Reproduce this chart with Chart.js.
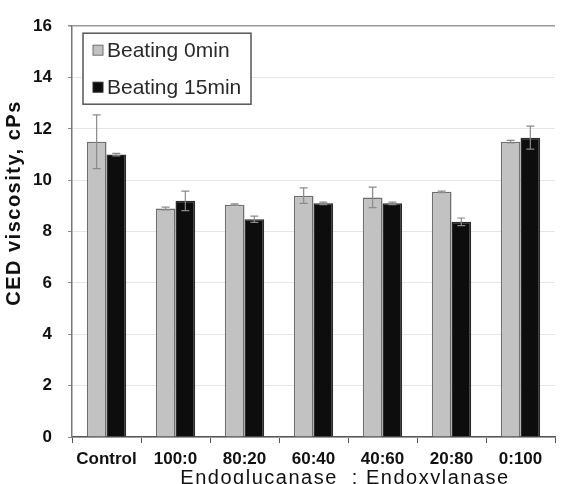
<!DOCTYPE html>
<html>
<head>
<meta charset="utf-8">
<script src="https://cdn.jsdelivr.net/npm/chart.js@4/dist/chart.umd.min.js"></script>
<style>
  html, body { margin: 0; padding: 0; background: #fff; }
  #wrap { width: 566px; height: 484px; }
</style>
</head>
<body>
<div id="wrap"><canvas id="viscChart" width="566" height="484"></canvas></div>
<script>
const categories = ['Control', '100:0', '80:20', '60:40', '40:60', '20:80', '0:100'];
const beating0 = [11.5, 8.9, 9.05, 9.4, 9.33, 9.55, 11.5];
const beating0Err = [1.05, 0.05, 0.03, 0.3, 0.4, 0.03, 0.05];
const beating15 = [11.0, 9.2, 8.48, 9.1, 9.1, 8.38, 11.66];
const beating15Err = [0.05, 0.38, 0.12, 0.05, 0.05, 0.15, 0.45];
const yTitle = 'CED viscosity, cPs';
const xTitle = 'Endoglucanase  : Endoxylanase';

const Theme = {
    lightBar: '#c2c2c2',
    lightEdge: '#6e6e6e',
    darkBar: '#0d0d0d',
    darkEdge: '#2a2a2a',
    grid: '#e6e6e6',
    frame: '#9a9a9a',
    text: '#111'
};

// error bars, drawn from the y scale
const errorBars = {
    id: 'errorBars',
    afterDatasetsDraw(chart) {
        const ctx = chart.ctx;
        const yScale = chart.scales.y;
        chart.data.datasets.forEach((ds, di) => {
            const meta = chart.getDatasetMeta(di);
            meta.data.forEach((bar, i) => {
                const v = ds.data[i], e = ds.errors[i];
                const top = yScale.getPixelForValue(v + e);
                const bot = yScale.getPixelForValue(v - e);
                ctx.save();
                ctx.strokeStyle = '#8a8a8a';
                ctx.lineWidth = 1.2;
                ctx.beginPath();
                ctx.moveTo(bar.x, top); ctx.lineTo(bar.x, bot);
                ctx.moveTo(bar.x - 4, top); ctx.lineTo(bar.x + 4, top);
                ctx.moveTo(bar.x - 4, bot); ctx.lineTo(bar.x + 4, bot);
                ctx.stroke();
                ctx.restore();
            });
        });
    }
};

// boxed legend inside the plot + axis titles
const decorations = {
    id: 'decorations',
    afterDraw(chart) {
        const ctx = chart.ctx;
        const area = chart.chartArea;
        ctx.save();

        // legend box
        const bx = area.left + 11, by = area.top + 7, bw = 168, bh = 71;
        ctx.fillStyle = '#fff';
        ctx.fillRect(bx, by, bw, bh);
        ctx.strokeStyle = '#555';
        ctx.lineWidth = 1.5;
        ctx.strokeRect(bx, by, bw, bh);
        ctx.font = '21px "Liberation Sans", Arial, sans-serif';
        ctx.textBaseline = 'middle';
        chart.data.datasets.forEach((ds, i) => {
            const cy = by + 17 + i * 37;
            ctx.fillStyle = ds.backgroundColor;
            ctx.fillRect(bx + 10, cy - 5, 10, 10);
            ctx.strokeStyle = ds.borderColor;
            ctx.lineWidth = 1;
            ctx.strokeRect(bx + 10, cy - 5, 10, 10);
            ctx.fillStyle = '#2a2a2a';
            ctx.fillText(ds.label, bx + 24, cy + 1);
        });

        // y title
        ctx.fillStyle = Theme.text;
        ctx.font = 'bold 20px "Liberation Sans", Arial, sans-serif';
        ctx.letterSpacing = '1.5px';
        ctx.textAlign = 'center';
        ctx.translate(14, 203);
        ctx.rotate(-Math.PI / 2);
        ctx.fillText(yTitle, 0, 0);
        ctx.restore();

        // x title
        ctx.save();
        ctx.fillStyle = Theme.text;
        ctx.font = '20px "Liberation Sans", Arial, sans-serif';
        ctx.letterSpacing = '1.5px';
        ctx.textAlign = 'center';
        ctx.textBaseline = 'alphabetic';
        ctx.fillText(xTitle, 345, 484);
        ctx.restore();
    }
};

new Chart(document.getElementById('viscChart'), {
    type: 'bar',
    data: {
        labels: categories,
        datasets: [{
            label: 'Beating 0min',
            data: beating0,
            errors: beating0Err,
            backgroundColor: Theme.lightBar,
            borderColor: Theme.lightEdge,
            borderWidth: 1.5
        },
        {
            label: 'Beating 15min',
            data: beating15,
            errors: beating15Err,
            backgroundColor: Theme.darkBar,
            borderColor: Theme.darkEdge,
            borderWidth: 1.5
        }]
    },
    options: {
        responsive: false,
        animation: false,
        categoryPercentage: 0.57,
        barPercentage: 1.0,
        layout: { padding: { top: 15, right: 11, left: 0, bottom: 0 } },
        plugins: {
            legend: { display: false },
            tooltip: { enabled: false }
        },
        scales: {
            x: {
                afterFit: scale => { scale.height = 47; },
                grid: {
                    offset: true,
                    drawOnChartArea: true,
                    color: c => c.index === categories.length ? '#8a8a8a' : 'rgba(0,0,0,0)',
                    tickColor: '#555',
                    tickLength: 6
                },
                border: { color: '#555', width: 1.5 },
                ticks: {
                    color: Theme.text,
                    padding: 6,
                    font: { family: '"Liberation Sans", Arial, sans-serif', size: 17, weight: 'bold' },
                    maxRotation: 0
                }
            },
            y: {
                min: 0,
                max: 16,
                afterFit: scale => { scale.width = 72; },
                grid: {
                    color: c => c.tick && c.tick.value === 16 ? Theme.frame : Theme.grid,
                    lineWidth: c => c.tick && c.tick.value === 16 ? 1.5 : 1,
                    tickColor: '#888',
                    tickLength: 4
                },
                border: { color: '#777', width: 1.5 },
                ticks: {
                    stepSize: 2,
                    color: Theme.text,
                    padding: 16,
                    font: { family: '"Liberation Sans Narrow", "Liberation Sans", Arial, sans-serif', size: 17, weight: 'bold' }
                }
            }
        }
    },
    plugins: [errorBars, decorations]
});
</script>
</body>
</html>
